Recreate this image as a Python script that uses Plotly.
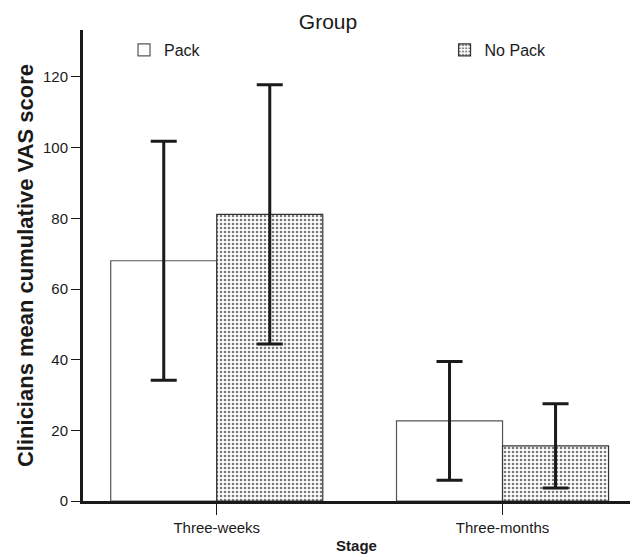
import plotly.graph_objects as go

stages = ["Three-weeks", "Three-months"]
groups = ["Pack", "No Pack"]
pack_mean = [68.0, 22.7]
pack_err = [33.8, 16.8]
nopack_mean = [81.1, 15.6]
nopack_err = [36.7, 11.9]
y_ticks = [0, 20, 40, 60, 80, 100, 120]

SANS = "Liberation Sans, Arial, sans-serif"
INK = "#1a1a1a"

fig = go.Figure()
fig.add_trace(go.Bar(
    name=groups[0], x=stages, y=pack_mean, legend="legend",
    marker=dict(color="white", line=dict(color="#555555", width=1.2)),
    error_y=dict(type="data", array=pack_err, visible=True,
                 thickness=3, width=13, color=INK),
))
fig.add_trace(go.Bar(
    name=groups[1], x=stages, y=nopack_mean, legend="legend2",
    marker=dict(color="white", line=dict(color="#333333", width=1.2),
                pattern=dict(shape=".", size=4, solidity=0.33,
                             fgcolor="#7a7a7a", bgcolor="white",
                             fillmode="replace")),
    error_y=dict(type="data", array=nopack_err, visible=True,
                 thickness=3, width=13, color=INK),
))

leg_common = dict(orientation="h", yanchor="middle", xanchor="left",
                  bgcolor="rgba(0,0,0,0)",
                  font=dict(family=SANS, size=16, color=INK))

fig.update_layout(
    width=630, height=560,
    margin=dict(l=83, r=0, t=30, b=59, autoexpand=False),
    plot_bgcolor="white", paper_bgcolor="white",
    barmode="group", bargap=0.258, bargroupgap=0,
    font=dict(family=SANS, size=15, color=INK),
    title=dict(text="Group", x=328 / 630, y=1 - 22 / 560,
               xanchor="center", yanchor="middle",
               font=dict(family=SANS, size=21, color=INK)),
    showlegend=True,
    legend=dict(x=0.075, y=0.9575, **leg_common),
    legend2=dict(x=0.661, y=0.9575, **leg_common),
    xaxis=dict(range=[-0.468, 1.446], showgrid=False, zeroline=False,
               automargin=False,
               showline=True, linecolor=INK, linewidth=2.5,
               ticks="outside", ticklen=11, tickwidth=1, tickcolor=INK,
               tickfont=dict(family=SANS, size=15),
               title=dict(text="<b>Stage</b>", standoff=6,
                          font=dict(family=SANS, size=15))),
    yaxis=dict(range=[0, 133.3], showgrid=False, zeroline=False,
               automargin=False,
               showline=True, linecolor=INK, linewidth=3,
               ticks="outside", ticklen=9, tickwidth=1, tickcolor=INK,
               tickvals=y_ticks, tickfont=dict(family=SANS, size=15),
               title=dict(text="<b>Clinicians mean cumulative VAS score</b>",
                          standoff=4,
                          font=dict(family=SANS, size=22))),
)

fig.write_html("out.html",
               config={"displayModeBar": False},
               post_script="document.body.style.margin='0';")
